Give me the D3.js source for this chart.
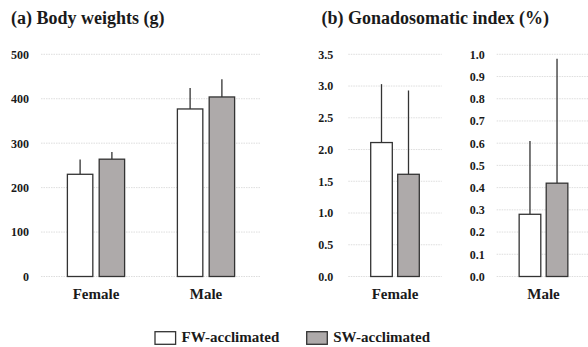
<!DOCTYPE html>
<html>
<head>
<meta charset="utf-8">
<script src="https://cdn.jsdelivr.net/npm/d3@7"></script>
<style>
  body { margin: 0; background: #fff; }
  text { font-family: "Liberation Serif", "Times New Roman", serif; font-weight: bold; fill: #1a1a1a; }
</style>
</head>
<body>
<svg id="chart" width="588" height="347"></svg>
<script>
const series = ["FW-acclimated", "SW-acclimated"];
const fills = ["#ffffff", "#aeaaaa"];

// (a) body weights
const bwCats = ["Female", "Male"];
const bwMean = [[230, 264], [377, 404]];
const bwErr = [[263, 280], [424, 444]];
const bwTicks = [0, 100, 200, 300, 400, 500];

// (b) gonadosomatic index, female and male on separate scales
const gsiFemMean = [2.11, 1.61];
const gsiFemErr = [3.03, 2.93];
const gsiFemTicks = [0, 0.5, 1.0, 1.5, 2.0, 2.5, 3.0, 3.5];
const gsiMaleMean = [0.28, 0.42];
const gsiMaleErr = [0.61, 0.98];
const gsiMaleTicks = [0, 0.1, 0.2, 0.3, 0.4, 0.5, 0.6, 0.7, 0.8, 0.9, 1.0];

const svg = d3.select('#chart');
const plotTop = 54.3, plotBottom = 276.5;

function panel(cats, means, errs, ticks, yMax, x0, x1, fmt, labelGap) {
	const g = svg.append('g');
	const y = d3.scaleLinear().domain([0, yMax]).range([plotBottom, plotTop]);
	const x = d3.scaleBand().domain(cats).range([x0, x1]);
	const xs = d3.scaleBand().domain(series).range([0, x.bandwidth()])
		.paddingInner(0.2).paddingOuter(0.83);

	g.selectAll('line.grid')
		.data(ticks)
		.join('line')
			.attr('class', 'grid')
			.attr('x1', x0).attr('x2', x1)
			.attr('y1', d => y(d)).attr('y2', d => y(d))
			.attr('stroke', '#d4d4d4')
			.attr('stroke-width', 0.8)
			.attr('stroke-dasharray', '1.5,1');

	const ax = g.append('g')
		.attr('transform', `translate(${x0 - labelGap},0)`)
		.call(d3.axisLeft(y).tickValues(ticks).tickSize(0).tickPadding(0).tickFormat(fmt));
	ax.select('.domain').remove();
	ax.selectAll('text')
		.style('font-family', '"Liberation Serif", serif')
		.style('font-weight', 'bold')
		.style('font-size', '12px')
		.attr('fill', '#1a1a1a');

	cats.forEach((c, i) => {
		const bars = g.append('g').attr('transform', `translate(${x(c)},0)`);
		series.forEach((s, j) => {
			const cx = xs(s) + xs.bandwidth() / 2;
			bars.append('line')
				.attr('x1', cx).attr('x2', cx)
				.attr('y1', y(means[i][j])).attr('y2', y(errs[i][j]))
				.attr('stroke', '#333').attr('stroke-width', 1.3);
			bars.append('rect')
				.attr('x', xs(s))
				.attr('y', y(means[i][j]))
				.attr('width', xs.bandwidth())
				.attr('height', plotBottom - y(means[i][j]))
				.attr('fill', fills[j])
				.attr('stroke', '#333')
				.attr('stroke-width', 1.3);
		});
		g.append('text')
			.attr('x', x(c) + x.bandwidth() / 2)
			.attr('y', 299)
			.attr('text-anchor', 'middle')
			.style('font-size', '15px')
			.text(c);
	});
}

panel(bwCats, bwMean, bwErr, bwTicks, 500, 41, 261, d3.format('d'), 12);
panel(["Female"], [gsiFemMean], [gsiFemErr], gsiFemTicks, 3.5, 348.3, 441.7, d3.format('.1f'), 15);
panel(["Male"], [gsiMaleMean], [gsiMaleErr], gsiMaleTicks, 1.0, 496.7, 590.3, d3.format('.1f'), 12);

svg.append('text').attr('x', 11).attr('y', 24).style('font-size', '18px').text('(a) Body weights (g)');
svg.append('text').attr('x', 321.5).attr('y', 24).style('font-size', '18px').text('(b) Gonadosomatic index (%)');

// legend
const legX = [155, 306.7];
series.forEach((s, j) => {
	svg.append('rect')
		.attr('x', legX[j]).attr('y', 331.7)
		.attr('width', 20.6).attr('height', 12.6)
		.attr('fill', fills[j])
		.attr('stroke', '#333').attr('stroke-width', 1.3);
	svg.append('text')
		.attr('x', legX[j] + 26.5).attr('y', 342)
		.style('font-size', '15px')
		.text(s);
});
</script>
</body>
</html>
